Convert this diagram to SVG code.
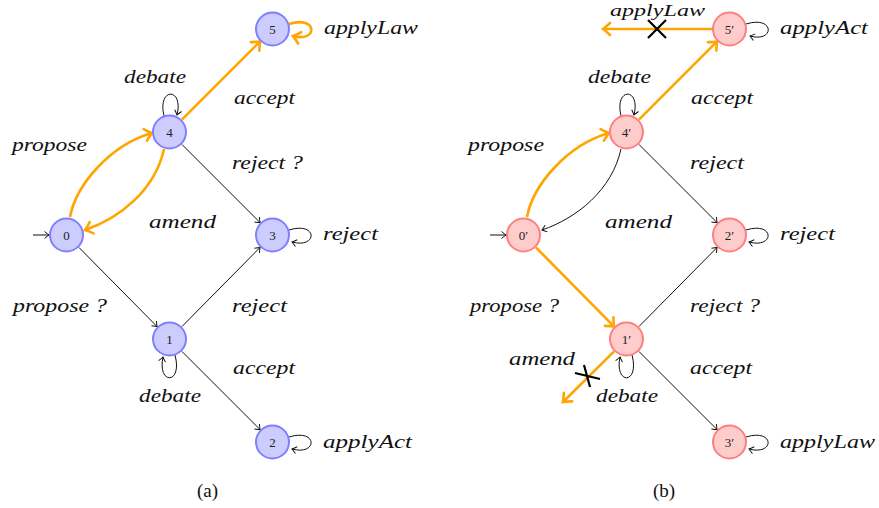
<svg xmlns="http://www.w3.org/2000/svg" width="879" height="508" viewBox="0 0 879 508">
<style>
.bg{fill:#ffffff}
.nb circle{fill:#ccccff;stroke:#7f7fff;stroke-width:2}
.nr circle{fill:#ffcccc;stroke:#ff7f7f;stroke-width:2}
.num{font-family:"Liberation Serif",serif;font-size:13px;fill:#222;text-anchor:middle}
.lbl{font-family:"Liberation Serif",serif;font-style:italic;font-size:19px;fill:#111}
.cap{font-family:"Liberation Serif",serif;font-size:19px;fill:#111}
.e{fill:none;stroke:#111;stroke-width:1;marker-end:url(#ab)}
.o{fill:none;stroke:#ffa500;stroke-width:2.6;marker-end:url(#ao)}
.x{stroke:#000;stroke-width:2.2;fill:none}
</style>
<defs>
<marker id="ab" viewBox="-10 -10 20 20" markerWidth="20" markerHeight="20" refX="0" refY="0" orient="auto" markerUnits="userSpaceOnUse" overflow="visible">
<path d="M -4.5,-3.5 Q -1.2,-0.8 0,0 Q -1.2,0.8 -4.5,3.5" fill="none" stroke="#111" stroke-width="1"/>
</marker>
<marker id="ao" viewBox="-10 -10 20 20" markerWidth="20" markerHeight="20" refX="0" refY="0" orient="auto" markerUnits="userSpaceOnUse" overflow="visible">
<path d="M -7,-6 Q -2,-1.2 0,0 Q -2,1.2 -7,6" fill="none" stroke="#ffa500" stroke-width="2.6" stroke-linecap="round"/>
</marker>
</defs>
<rect class="bg" x="0" y="0" width="879" height="508"/>

<g id="connectors">
<!-- left (a) -->
<path class="e" d="M 33,235 L 49,235"/>
<path class="e" d="M 78.9,247.4 L 157.1,326.6"/>
<path class="e" d="M 181.9,326.6 L 260.1,247.4"/>
<path class="e" d="M 181.9,144.4 L 260.1,222.6"/>
<path class="e" d="M 181.9,351.4 L 260.1,429.6"/>
<path class="o" d="M 181.9,119.6 L 260.1,41.4"/>
<path class="o" d="M 70,217 C 76,185 110,145 152,133"/>
<path class="o" d="M 164,149 C 155,190 120,218 85,230"/>
<path class="e" d="M 164,116 C 157,87 184,87 177,115"/>
<path class="o" d="M 289,24 C 318,15 318,43 293,36"/>
<path class="e" d="M 289,230 C 318,221 318,249 292,242"/>
<path class="e" d="M 289,437 C 318,428 318,456 292,449"/>
<path class="e" d="M 175,355 C 183,385 157,385 163,357"/>
<!-- right (b) -->
<path class="e" d="M 490,235 L 506,235"/>
<path class="o" d="M 535.9,247.4 L 614.1,326.6"/>
<path class="e" d="M 638.9,326.6 L 717.1,247.4"/>
<path class="e" d="M 638.9,144.4 L 717.1,222.6"/>
<path class="e" d="M 638.9,351.4 L 717.1,429.6"/>
<path class="o" d="M 638.9,119.6 L 717.1,41.4"/>
<path class="o" d="M 712,29 L 603,29"/>
<path class="o" d="M 614.1,351.4 L 563,402"/>
<path class="o" d="M 527,217 C 533,185 567,145 609,133"/>
<path class="e" d="M 621,149 C 612,190 577,218 542,230"/>
<path class="e" d="M 621,116 C 614,87 641,87 634,115"/>
<path class="e" d="M 746,24 C 775,15 775,43 750,36"/>
<path class="e" d="M 746,230 C 775,221 775,249 749,242"/>
<path class="e" d="M 746,437 C 775,428 775,456 749,449"/>
<path class="e" d="M 632,355 C 640,385 614,385 620,357"/>
<!-- crosses -->
<path class="x" d="M 648,20 L 666,38 M 666,20 L 648,38"/>
<path class="x" d="M 575,373 L 600,379 M 584,365 L 590,387"/>
</g>

<g id="n0" class="nb"><circle cx="66.5" cy="235" r="16.5"/><text class="num" x="66.5" y="239.5">0</text></g>
<g id="n1" class="nb"><circle cx="169.5" cy="339" r="16.5"/><text class="num" x="169.5" y="343.5">1</text></g>
<g id="n2" class="nb"><circle cx="272.5" cy="442" r="16.5"/><text class="num" x="272.5" y="446.5">2</text></g>
<g id="n3" class="nb"><circle cx="272.5" cy="235" r="16.5"/><text class="num" x="272.5" y="239.5">3</text></g>
<g id="n4" class="nb"><circle cx="169.5" cy="132" r="16.5"/><text class="num" x="169.5" y="136.5">4</text></g>
<g id="n5" class="nb"><circle cx="272.5" cy="29" r="16.5"/><text class="num" x="272.5" y="33.5">5</text></g>

<g id="m0" class="nr"><circle cx="523.5" cy="235" r="16.5"/><text class="num" x="523.5" y="239.5">0′</text></g>
<g id="m1" class="nr"><circle cx="626.5" cy="339" r="16.5"/><text class="num" x="626.5" y="343.5">1′</text></g>
<g id="m2" class="nr"><circle cx="729.5" cy="235" r="16.5"/><text class="num" x="729.5" y="239.5">2′</text></g>
<g id="m3" class="nr"><circle cx="729.5" cy="442" r="16.5"/><text class="num" x="729.5" y="446.5">3′</text></g>
<g id="m4" class="nr"><circle cx="626.5" cy="132" r="16.5"/><text class="num" x="626.5" y="136.5">4′</text></g>
<g id="m5" class="nr"><circle cx="729.5" cy="29" r="16.5"/><text class="num" x="729.5" y="33.5">5′</text></g>

<g id="labels">
<text class="lbl" x="324" y="34" textLength="94" lengthAdjust="spacingAndGlyphs">applyLaw</text>
<text class="lbl" x="124" y="83" textLength="62" lengthAdjust="spacingAndGlyphs">debate</text>
<text class="lbl" x="234" y="104" textLength="61" lengthAdjust="spacingAndGlyphs">accept</text>
<text class="lbl" x="12" y="151" textLength="75" lengthAdjust="spacingAndGlyphs">propose</text>
<text class="lbl" x="232" y="169" textLength="71" lengthAdjust="spacingAndGlyphs">reject ?</text>
<text class="lbl" x="149" y="228" textLength="67" lengthAdjust="spacingAndGlyphs">amend</text>
<text class="lbl" x="323" y="240" textLength="55" lengthAdjust="spacingAndGlyphs">reject</text>
<text class="lbl" x="13" y="312" textLength="94" lengthAdjust="spacingAndGlyphs">propose ?</text>
<text class="lbl" x="232" y="312" textLength="55" lengthAdjust="spacingAndGlyphs">reject</text>
<text class="lbl" x="233" y="374" textLength="62" lengthAdjust="spacingAndGlyphs">accept</text>
<text class="lbl" x="139" y="402" textLength="62" lengthAdjust="spacingAndGlyphs">debate</text>
<text class="lbl" x="323" y="448" textLength="89" lengthAdjust="spacingAndGlyphs">applyAct</text>
<text class="cap" x="197" y="497">(a)</text>

<text class="lbl" x="610" y="16" font-size="17" style="font-size:17px" textLength="95" lengthAdjust="spacingAndGlyphs">applyLaw</text>
<text class="lbl" x="780" y="34" textLength="88" lengthAdjust="spacingAndGlyphs">applyAct</text>
<text class="lbl" x="588" y="83" textLength="63" lengthAdjust="spacingAndGlyphs">debate</text>
<text class="lbl" x="691" y="104" textLength="62" lengthAdjust="spacingAndGlyphs">accept</text>
<text class="lbl" x="468" y="151" textLength="76" lengthAdjust="spacingAndGlyphs">propose</text>
<text class="lbl" x="690" y="169" textLength="54" lengthAdjust="spacingAndGlyphs">reject</text>
<text class="lbl" x="605" y="228" textLength="67" lengthAdjust="spacingAndGlyphs">amend</text>
<text class="lbl" x="780" y="240" textLength="55" lengthAdjust="spacingAndGlyphs">reject</text>
<text class="lbl" x="470" y="312" textLength="89" lengthAdjust="spacingAndGlyphs">propose ?</text>
<text class="lbl" x="690" y="312" textLength="70" lengthAdjust="spacingAndGlyphs">reject ?</text>
<text class="lbl" x="509" y="365" textLength="66" lengthAdjust="spacingAndGlyphs">amend</text>
<text class="lbl" x="596" y="402" textLength="62" lengthAdjust="spacingAndGlyphs">debate</text>
<text class="lbl" x="690" y="374" textLength="62" lengthAdjust="spacingAndGlyphs">accept</text>
<text class="lbl" x="780" y="448" textLength="95" lengthAdjust="spacingAndGlyphs">applyLaw</text>
<text class="cap" x="653" y="497">(b)</text>
</g>
</svg>
